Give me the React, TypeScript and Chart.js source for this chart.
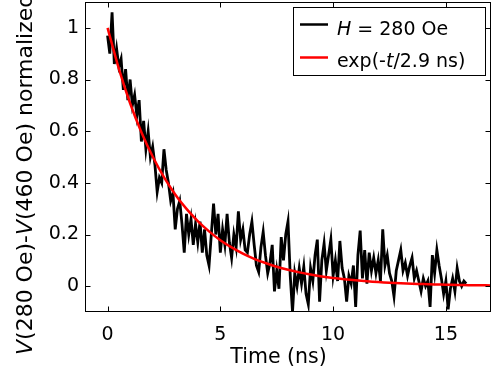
import React, { useEffect, useRef } from "react";
import { Chart, registerables } from "chart.js";

Chart.register(...registerables);

// ---- data ----
const blackStartNs = 0;
const blackStepNs = 0.1;
const blackValues = [
  0.97, 0.9, 1.06, 0.86, 0.92, 0.85, 0.88, 0.76, 0.84, 0.72,
  0.8, 0.7, 0.74, 0.66, 0.72, 0.56, 0.64, 0.53, 0.6, 0.5,
  0.54, 0.47, 0.365, 0.42, 0.4, 0.53, 0.45, 0.4, 0.33, 0.36,
  0.22, 0.3, 0.33, 0.24, 0.13, 0.28, 0.2, 0.26, 0.16, 0.24,
  0.17, 0.25, 0.13, 0.22, 0.12, 0.08, 0.2, 0.32, 0.2, 0.28,
  0.13, 0.22, 0.16, 0.28, 0.17, 0.11, 0.2, 0.15, 0.29, 0.18,
  0.22, 0.14, 0.13, 0.2, 0.25, 0.16, 0.08, 0.055, 0.15, 0.21,
  0.12, 0.05, 0.09, 0.16, -0.02, 0.06, -0.01, 0.19, 0.1, 0.2,
  0.25, 0.04, -0.1, 0.05, 0.0, 0.07, 0.01, 0.075, -0.03, -0.07,
  0.07, 0.02, 0.12, 0.18, -0.06, 0.1, 0.165, 0.06, 0.12, 0.18,
  0.04, 0.1, 0.02, 0.175, 0.07, 0.03, -0.06, 0.04, 0.01, 0.08,
  -0.08, 0.12, 0.215, 0.03, 0.14, 0.01, 0.13, 0.06, 0.11, 0.05,
  0.1, 0.02, 0.22, 0.08, 0.12, 0.05, 0.02, -0.04, 0.06, 0.1,
  0.14, 0.06, 0.09, 0.04, 0.08, 0.11, 0.03, 0.06, 0.02, -0.02,
  0.03, 0.0, 0.02, -0.08, 0.12, 0.05, 0.14, 0.08, 0.03, -0.03,
  0.02, -0.09, -0.01, 0.03, -0.02, 0.07, 0.02, 0.0, 0.02, 0.01,
];

const fitStartNs = 0;
const fitStepNs = 0.5;
const fitValues = [
  1.0, 0.842, 0.708, 0.596, 0.502, 0.422, 0.355, 0.299, 0.252, 0.212,
  0.178, 0.15, 0.126, 0.106, 0.0895, 0.0753, 0.0634, 0.0533, 0.0449, 0.0378,
  0.0318, 0.0268, 0.0225, 0.019, 0.016, 0.0134, 0.0113, 0.0095, 0.008, 0.0067,
  0.0057, 0.0048, 0.004, 0.0034, 0.0029,
];

const xTicks = [0, 5, 10, 15];
const xTickLabels = ["0", "5", "10", "15"];
const yTicks = [0, 0.2, 0.4, 0.6, 0.8, 1];
const yTickLabels = ["0", "0.2", "0.4", "0.6", "0.8", "1"];
const xRange = [-1, 17];
const yRange = [-0.1, 1.1];

const FONT = "'DejaVu Sans', 'Liberation Sans', Arial, sans-serif";

type Part = { text: string; italic?: boolean };

function drawParts(ctx: CanvasRenderingContext2D, parts: Part[], x: number, y: number, size: number) {
  let cx = x;
  for (const p of parts) {
    ctx.font = `${p.italic ? "italic " : ""}${size}px ${FONT}`;
    ctx.fillText(p.text, cx, y);
    cx += ctx.measureText(p.text).width;
  }
}

const decorPlugin = {
  id: "decor",
  afterDraw(chart: any) {
    const { ctx, chartArea: a, scales } = chart;
    const xs = scales.x;
    const ys = scales.y;
    ctx.save();
    // box
    ctx.strokeStyle = "#000";
    ctx.lineWidth = 1;
    const L = a.left + 0.5, R = a.right - 0.5, T = a.top + 0.5, B = a.bottom - 0.5;
    ctx.strokeRect(L, T, R - L, B - T);
    // inside ticks
    const tl = 5;
    ctx.beginPath();
    for (const v of xTicks) {
      const px = Math.round(xs.getPixelForValue(v)) + 0.5;
      ctx.moveTo(px, B); ctx.lineTo(px, B - tl);
      ctx.moveTo(px, T); ctx.lineTo(px, T + tl);
    }
    for (const v of yTicks) {
      const py = Math.round(ys.getPixelForValue(v)) + 0.5;
      ctx.moveTo(L, py); ctx.lineTo(L + tl, py);
      ctx.moveTo(R, py); ctx.lineTo(R - tl, py);
    }
    ctx.stroke();

    // legend
    ctx.fillStyle = "#fff";
    ctx.fillRect(293.5, 7.5, 192, 68);
    ctx.strokeRect(293.5, 7.5, 192, 68);
    ctx.lineWidth = 2.5;
    ctx.strokeStyle = "#000";
    ctx.beginPath(); ctx.moveTo(300, 24.5); ctx.lineTo(328, 24.5); ctx.stroke();
    ctx.strokeStyle = "#ff0000";
    ctx.beginPath(); ctx.moveTo(300, 57.5); ctx.lineTo(328, 57.5); ctx.stroke();
    ctx.fillStyle = "#000";
    ctx.textAlign = "left";
    ctx.textBaseline = "alphabetic";
    drawParts(ctx, [{ text: "H", italic: true }, { text: " = 280 Oe" }], 337, 35, 19);
    drawParts(ctx, [{ text: "exp(-" }, { text: "t", italic: true }, { text: "/2.9 ns)" }], 337, 67, 19);

    // x title
    ctx.font = `20.5px ${FONT}`;
    ctx.textAlign = "center";
    ctx.fillText("Time (ns)", 278.5, 363);

    // y title
    ctx.translate(32, 355);
    ctx.rotate(-Math.PI / 2);
    ctx.textAlign = "left";
    drawParts(
      ctx,
      [
        { text: "V", italic: true },
        { text: "(280 Oe)-" },
        { text: "V", italic: true },
        { text: "(460 Oe) normalized" },
      ],
      0,
      0,
      22
    );
    ctx.restore();
  },
};

export default function App() {
  const ref = useRef<HTMLCanvasElement | null>(null);

  useEffect(() => {
    if (!ref.current) return;
    const blackData = blackValues.map((v, i) => ({ x: +(blackStartNs + i * blackStepNs).toFixed(2), y: v }));
    const fitData = fitValues.map((v, i) => ({ x: fitStartNs + i * fitStepNs, y: v }));

    const chart = new Chart(ref.current, {
      type: "line",
      data: {
        datasets: [
          {
            label: "exp(-t/2.9 ns)",
            data: fitData,
            borderColor: "#ff0000",
            borderWidth: 2.5,
            pointRadius: 0,
            tension: 0.3,
            order: 0,
          },
          {
            label: "H = 280 Oe",
            data: blackData,
            borderColor: "#000000",
            borderWidth: 2.8,
            pointRadius: 0,
            tension: 0,
            order: 1,
          },
        ],
      },
      options: {
        responsive: false,
        animation: false,
        devicePixelRatio: 1,
        layout: { padding: { top: 2, right: 2, left: 0, bottom: 0 } },
        plugins: { legend: { display: false }, tooltip: { enabled: false } },
        scales: {
          x: {
            type: "linear",
            min: xRange[0],
            max: xRange[1],
            grid: { display: false, drawTicks: false },
            border: { display: false },
            afterBuildTicks: (s: any) => {
              s.ticks = xTicks.map((v) => ({ value: v }));
            },
            afterFit: (s: any) => {
              s.height = 64;
              s.paddingLeft = 0;
              s.paddingRight = 0;
            },
            ticks: {
              color: "#000",
              font: { family: FONT, size: 19 },
              padding: 12,
              maxRotation: 0,
              autoSkip: false,
              callback: (v: any) => xTickLabels[xTicks.indexOf(Number(v))] ?? "",
            },
          },
          y: {
            type: "linear",
            min: yRange[0],
            max: yRange[1],
            grid: { display: false, drawTicks: false },
            border: { display: false },
            afterBuildTicks: (s: any) => {
              s.ticks = yTicks.map((v) => ({ value: v }));
            },
            afterFit: (s: any) => {
              s.width = 85;
              s.paddingTop = 0;
              s.paddingBottom = 0;
            },
            ticks: {
              color: "#000",
              font: { family: FONT, size: 19 },
              padding: 6,
              autoSkip: false,
              callback: (v: any) => yTickLabels[yTicks.indexOf(Number(v))] ?? "",
            },
          },
        },
      },
      plugins: [decorPlugin],
    });
    return () => chart.destroy();
  }, []);

  return (
    <div style={{ position: "absolute", left: 0, top: 0, width: 493, height: 376, background: "#fff" }}>
      <canvas ref={ref} width={493} height={376} style={{ width: 493, height: 376, display: "block" }} />
    </div>
  );
}
